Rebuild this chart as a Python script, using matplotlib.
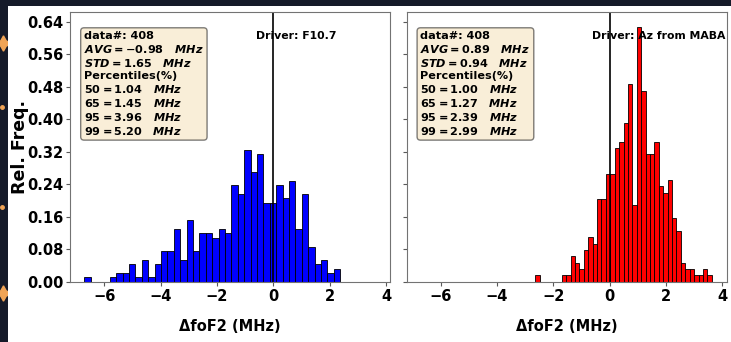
import numpy as np
import matplotlib
matplotlib.use("Agg")
import matplotlib.pyplot as plt
from matplotlib.patches import Rectangle
from matplotlib.lines import Line2D

plt.rcParams["font.family"] = "DejaVu Sans"
plt.rcParams["font.weight"] = "bold"
plt.rcParams["mathtext.fontset"] = "custom"
plt.rcParams["mathtext.rm"] = "DejaVu Sans:bold"
plt.rcParams["mathtext.it"] = "DejaVu Sans:italic:bold"
plt.rcParams["mathtext.bf"] = "DejaVu Sans:bold"

n_data = 408
n_bins = 40

# residual histograms (counts per bin, 40 bins between min and max)
f107_range = (-6.71, 2.37)
f107_counts = [1, 0, 0, 0, 1, 2, 2, 4, 1, 5, 1, 4, 7, 7, 12, 5, 14, 7, 11, 11,
               10, 12, 11, 22, 20, 30, 25, 29, 18, 18, 22, 19, 23, 12, 20, 8, 4, 5, 2, 3]
f107_avg, f107_std = -0.98, 1.65

maba_range = (-2.64, 3.62)
maba_counts = [1, 0, 0, 0, 0, 0, 1, 1, 4, 3, 2, 5, 7, 6, 13, 13, 17, 17, 21, 22,
               25, 31, 12, 40, 30, 20, 20, 22, 15, 14, 16, 10, 8, 3, 2, 2, 1, 1, 2, 1]
maba_avg, maba_std = 0.89, 0.94

pct_levels = [50, 65, 95, 99]
f107_pct = [1.04, 1.45, 3.96, 5.20]
maba_pct = [1.00, 1.27, 2.39, 2.99]

panels = [
    ("Driver: F10.7", f107_range, f107_counts, f107_avg, f107_std, f107_pct, "blue"),
    ("Driver: Az from MABA", maba_range, maba_counts, maba_avg, maba_std, maba_pct, "red"),
]

W, H = 731, 342
fig = plt.figure(figsize=(W / 100, H / 100), dpi=100)
fig.patch.set_facecolor("#151a29")
fig.add_artist(Rectangle((8 / W, 0), 1, 1 - 6 / H, transform=fig.transFigure,
                         facecolor="white", edgecolor="none", zorder=-1))
for yy in [43, 293]:
    fig.add_artist(Line2D([3 / W], [1 - yy / H], marker=(4, 1, 0), ms=11,
                          color="#f0a456", transform=fig.transFigure, zorder=-2))
for yy in [107, 207]:
    fig.add_artist(Line2D([2 / W], [1 - yy / H], marker="o", ms=2.5,
                          color="#f0a456", transform=fig.transFigure, zorder=-2))

ax_w, ax_h = 320 / W, 269.4 / H
ax_b = (H - 281.7) / H
axes = [fig.add_axes([70.3 / W, ax_b, ax_w, ax_h]),
        fig.add_axes([406.7 / W, ax_b, ax_w, ax_h])]

for ax, (driver, rng, counts, avg, std, pct, color) in zip(axes, panels):
    edges = np.linspace(rng[0], rng[1], n_bins + 1)
    width = edges[1] - edges[0]
    freq = np.array(counts) / (n_data * width)
    ax.bar(edges[:-1], freq, width=width, align="edge", color=color,
           edgecolor="black", linewidth=0.6)
    ax.axvline(0, color="black", lw=1.2)

    ax.set_xlim(-7.2, 4.15)
    ax.set_ylim(0, 0.663)
    ax.set_xticks([-6, -4, -2, 0, 2, 4])
    ax.set_yticks(np.arange(0, 0.65, 0.08))
    ax.tick_params(labelsize=10.5, color="0.35", length=3, pad=2)
    for sp in ax.spines.values():
        sp.set_color("0.45")
    ax.set_xlabel("ΔfoF2 (MHz)", fontsize=10.5, fontweight="bold", labelpad=11)

    lines = ["data#: %d" % n_data,
             r"$AVG = %.2f$   $MHz$" % avg,
             r"$STD = %.2f$   $MHz$" % std,
             "Percentiles(%)"]
    for lev, val in zip(pct_levels, pct):
        lines.append(r"$%d = %.2f$   $MHz$" % (lev, val))
    ax.text(0.043, 0.93, "\n".join(lines), transform=ax.transAxes, fontsize=8.1,
            va="top", ha="left", fontweight="bold",
            bbox=dict(boxstyle="round", facecolor="wheat", alpha=0.5))
    ax.text(0.58, 0.913, driver, transform=ax.transAxes, fontsize=7.8,
            va="center", ha="left", fontweight="bold")

axes[0].set_yticklabels(["%.2f" % v for v in np.arange(0, 0.65, 0.08)])
axes[0].set_ylabel("Rel. Freq.", fontsize=12.5, fontweight="bold")
axes[0].yaxis.set_label_coords(-0.13, 0.5)
axes[1].set_yticklabels([])

fig.savefig("out.png", dpi=100, facecolor=fig.get_facecolor())
